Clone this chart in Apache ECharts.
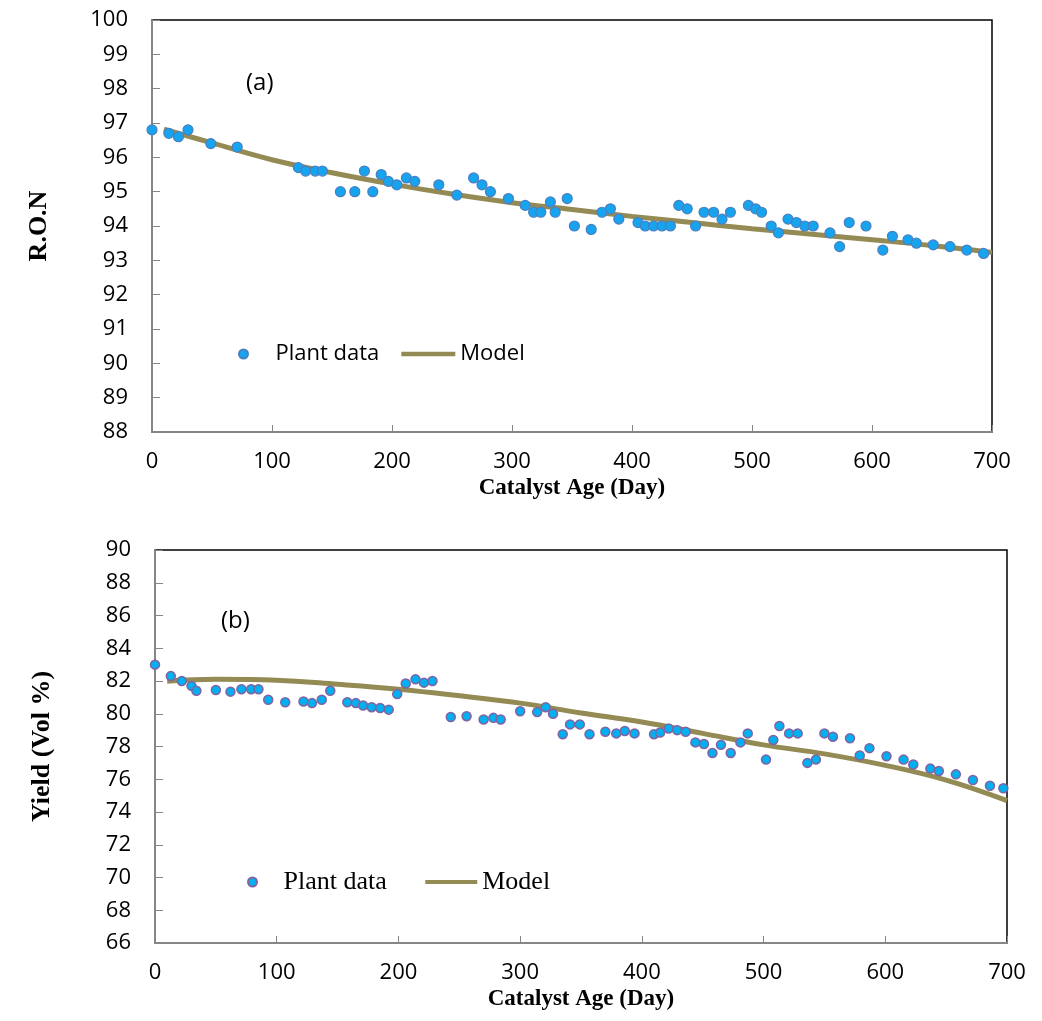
<html>
<head>
<meta charset="utf-8" />
<title>RON / Yield vs catalyst age</title>
<script src="https://cdn.jsdelivr.net/npm/echarts@6/dist/echarts.min.js"></script>
<style type="text/css">
body { margin: 0; background: #fff; }
#main { width: 1042px; height: 1021px; }
</style>
</head>
<body>
<div id="main"></div>
<script type="text/javascript">
var myChart = echarts.init(document.getElementById("main"));

// (a) R.O.N - plant data
var ronDays = [0, 14, 22, 30, 49, 71, 122, 128, 136, 142, 157, 169, 177, 184, 191, 197, 204, 212, 219, 239,
	254, 268, 275, 282, 297, 311, 318, 324, 332, 336, 346, 352, 366, 375, 382, 389, 405, 411, 418, 425,
	432, 439, 446, 453, 460, 468, 475, 482, 497, 503, 508, 516, 522, 530, 537, 544, 551, 565, 573, 581,
	595, 609, 617, 630, 637, 651, 665, 679, 693];
var ronValues = [96.8, 96.7, 96.6, 96.8, 96.4, 96.3, 95.7, 95.6, 95.6, 95.6, 95.0, 95.0, 95.6, 95.0, 95.5, 95.3, 95.2, 95.4, 95.3, 95.2,
	94.9, 95.4, 95.2, 95.0, 94.8, 94.6, 94.4, 94.4, 94.7, 94.4, 94.8, 94.0, 93.9, 94.4, 94.5, 94.2, 94.1, 94.0, 94.0, 94.0,
	94.0, 94.6, 94.5, 94.0, 94.4, 94.4, 94.2, 94.4, 94.6, 94.5, 94.4, 94.0, 93.8, 94.2, 94.1, 94.0, 94.0, 93.8, 93.4, 94.1,
	94.0, 93.3, 93.7, 93.6, 93.5, 93.45, 93.4, 93.3, 93.2];
// (a) model
var ronModelDays = [10, 50, 100, 150, 200, 250, 300, 350, 400, 450, 500, 550, 600, 650, 700];
var ronModelValues = [96.82, 96.42, 95.93, 95.55, 95.22, 94.93, 94.68, 94.48, 94.28, 94.10, 93.92, 93.76, 93.60, 93.43, 93.23];

// (b) Yield - plant data
var yieldDays = [0, 13, 22, 30, 34, 50, 62, 71, 79, 85, 93, 107, 122, 129, 137, 144, 158, 165, 171, 178,
	185, 192, 199, 206, 214, 221, 228, 243, 256, 270, 278, 284, 300, 314, 321, 327, 335, 341, 349, 357,
	370, 379, 386, 394, 410, 415, 422, 429, 436, 444, 451, 458, 465, 473, 481, 487, 502, 508, 513, 521,
	528, 536, 543, 550, 557, 571, 579, 587, 601, 615, 623, 637, 644, 658, 672, 686, 697];
var yieldValues = [83.0, 82.3, 82.0, 81.7, 81.4, 81.45, 81.35, 81.5, 81.5, 81.5, 80.85, 80.7, 80.75, 80.65, 80.85, 81.4, 80.7, 80.65, 80.5, 80.4,
	80.35, 80.25, 81.2, 81.85, 82.1, 81.9, 82.0, 79.8, 79.85, 79.65, 79.75, 79.65, 80.15, 80.1, 80.4, 80.0, 78.75, 79.35, 79.35, 78.75,
	78.9, 78.8, 78.95, 78.8, 78.75, 78.85, 79.1, 79.0, 78.9, 78.25, 78.15, 77.6, 78.1, 77.6, 78.25, 78.8, 77.2, 78.4, 79.25, 78.8,
	78.8, 77.0, 77.2, 78.8, 78.6, 78.5, 77.45, 77.9, 77.4, 77.2, 76.9, 76.65, 76.5, 76.3, 75.95, 75.6, 75.45];
// (b) model
var yieldModelDays = [10, 50, 100, 150, 200, 250, 300, 350, 400, 450, 500, 550, 600, 650, 700];
var yieldModelValues = [81.98, 82.10, 82.05, 81.80, 81.50, 81.10, 80.65, 80.05, 79.50, 78.80, 78.10, 77.55, 76.85, 75.95, 74.70];

function pairs(xs, ys) {
	return xs.map(function (x, i) { return [x, ys[i]]; });
}

var sans = "Open Sans";
var serif = "Liberation Serif";
var axisGrey = "#868686";
var modelColor = "#948a54";
var lineIcon = "path://M0,0L100,0L100,8L0,8Z"; // flat bar for the model legend entry

function xAxisFor(gridIndex) {
	return {
		gridIndex: gridIndex,
		type: "value",
		min: 0,
		max: 700,
		interval: 100,
		name: "Catalyst Age (Day)",
		nameLocation: "middle",
		nameGap: 45,
		nameTextStyle: { fontFamily: serif, fontWeight: "bold", fontSize: 23, color: "#000" },
		axisLine: { show: true, onZero: false, lineStyle: { color: axisGrey, width: 2 } },
		axisTick: { show: true, inside: true, length: 7, lineStyle: { color: axisGrey, width: 1 } },
		axisLabel: { margin: 19, fontFamily: sans, fontSize: 22, color: "#000" },
		splitLine: { show: false },
	};
}

function yAxisFor(gridIndex, name, min, max, interval) {
	return {
		gridIndex: gridIndex,
		type: "value",
		min: min,
		max: max,
		interval: interval,
		name: name,
		nameLocation: "middle",
		nameGap: 100,
		nameTextStyle: { fontFamily: serif, fontWeight: "bold", fontSize: 26, color: "#000" },
		axisLine: { show: true, onZero: false, lineStyle: { color: axisGrey, width: 2 } },
		axisTick: { show: true, inside: true, length: 8, lineStyle: { color: axisGrey, width: 1 } },
		axisLabel: { margin: 24, fontFamily: sans, fontSize: 22, color: "#000" },
		splitLine: { show: false },
	};
}

option = {
	backgroundColor: "#fff",
	animation: false,
	title: [
		{ text: "(a)", left: 241, top: 66, textStyle: { fontFamily: sans, fontSize: 24, fontWeight: "normal", color: "#000" } },
		{ text: "(b)", left: 216, top: 604, textStyle: { fontFamily: sans, fontSize: 24, fontWeight: "normal", color: "#000" } },
	],
	grid: [
		{ left: 152, top: 20, width: 840, height: 412, show: true, borderColor: "#000", borderWidth: 1.5 },
		{ left: 155, top: 550, width: 852, height: 393, show: true, borderColor: "#000", borderWidth: 1.5 },
	],
	legend: [
		{
			left: 233, top: 338, itemWidth: 54, itemHeight: 9, itemGap: 22,
			data: [{ name: "Plant data", icon: "circle" }, { name: "Model", icon: lineIcon }],
			textStyle: { fontFamily: sans, fontSize: 22, color: "#000" },
		},
		{
			left: 242, top: 864, itemWidth: 52, itemHeight: 9, itemGap: 32,
			data: [{ name: "Plant data ", icon: "circle" }, { name: "Model ", icon: lineIcon }],
			textStyle: { fontFamily: serif, fontSize: 26, color: "#000" },
		},
	],
	xAxis: [xAxisFor(0), xAxisFor(1)],
	yAxis: [
		yAxisFor(0, "R.O.N", 88, 100, 1),
		yAxisFor(1, "Yield (Vol %)", 66, 90, 2),
	],
	series: [
		{
			name: "Model",
			type: "line",
			xAxisIndex: 0,
			yAxisIndex: 0,
			data: pairs(ronModelDays, ronModelValues),
			smooth: 0.4,
			symbol: "none",
			lineStyle: { color: modelColor, width: 5 },
			itemStyle: { color: modelColor },
			z: 2,
		},
		{
			name: "Plant data",
			type: "scatter",
			xAxisIndex: 0,
			yAxisIndex: 0,
			data: pairs(ronDays, ronValues),
			symbolSize: 10,
			itemStyle: { color: "#16a4ee", borderColor: "#4a7fc1", borderWidth: 1.2, opacity: 1 },
			z: 3,
		},
		{
			name: "Model ",
			type: "line",
			xAxisIndex: 1,
			yAxisIndex: 1,
			data: pairs(yieldModelDays, yieldModelValues),
			smooth: 0.4,
			symbol: "none",
			lineStyle: { color: modelColor, width: 5 },
			itemStyle: { color: modelColor },
			z: 2,
		},
		{
			name: "Plant data ",
			type: "scatter",
			xAxisIndex: 1,
			yAxisIndex: 1,
			data: pairs(yieldDays, yieldValues),
			symbolSize: 9,
			itemStyle: { color: "#00b0f0", borderColor: "#8064a2", borderWidth: 1.5, opacity: 1 },
			z: 3,
		},
	],
};

myChart.setOption(option);
</script>
</body>
</html>
